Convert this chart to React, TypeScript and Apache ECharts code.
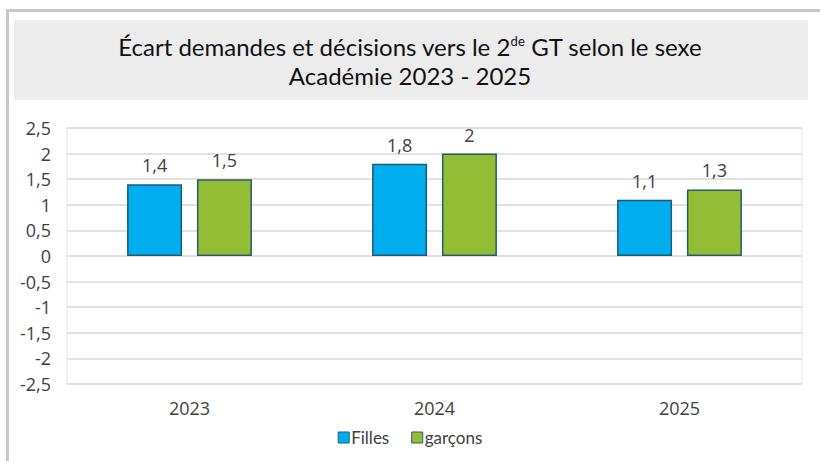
import React, { useEffect, useRef } from "react";
import * as echarts from "echarts";

const categories = ["2023", "2024", "2025"];
const filles = [1.4, 1.8, 1.1];
const garcons = [1.5, 2, 1.3];
const seriesNames = ["Filles", "garçons"];

const fmt = (v: number) => String(v).replace(".", ",");

export default function App() {
  const ref = useRef<HTMLDivElement>(null);
  useEffect(() => {
    const chart = echarts.init(ref.current!, null, { renderer: "svg" });
    const labelStyle = {
      show: true,
      position: "top" as const,
      distance: 10,
      color: "#404040",
      fontSize: 18,
      fontFamily: "Open Sans",
      formatter: (p: any) => fmt(p.value),
    };
    chart.setOption({
      animation: false,
      backgroundColor: "#ffffff",
      graphic: [
        { type: "rect", shape: { x: 6, y: 9, width: 820, height: 3 }, style: { fill: "#c8c8c8" } },
        { type: "rect", shape: { x: 6, y: 9, width: 3, height: 460 }, style: { fill: "#c8c8c8" } },
        { type: "rect", shape: { x: 14, y: 20, width: 794, height: 80 }, style: { fill: "#ececec" } },
        {
          type: "text",
          x: 410,
          y: 46,
          style: {
            text: "{t|Écart demandes et décisions vers le 2}{s|de}{t| GT selon le sexe}",
            align: "center",
            verticalAlign: "middle",
            rich: {
              t: { fontSize: 24, fontFamily: "Lato", fill: "#111111" },
              s: { fontSize: 13, fontFamily: "Lato", fill: "#111111", verticalAlign: "top", padding: [0, 0, 10, 0] },
            },
          },
        },
        {
          type: "text",
          x: 410,
          y: 75,
          style: {
            text: "Académie 2023 - 2025",
            align: "center",
            verticalAlign: "middle",
            fontSize: 24,
            fontFamily: "Lato",
            fill: "#111111",
          },
        },
      ],
      grid: { left: 67, right: 18, top: 128, bottom: 77, show: true, borderColor: "#e4e4e4", borderWidth: 1 },
      legend: {
        bottom: 10,
        left: "center",
        itemWidth: 11,
        itemHeight: 11,
        itemGap: 22,
        icon: "rect",
        itemStyle: { borderWidth: 1 },
        textStyle: { fontSize: 17, color: "#404040", fontFamily: "Lato", padding: [0, 0, 0, -3] },
        data: seriesNames,
      },
      xAxis: {
        type: "category",
        data: categories,
        axisLine: { show: false },
        axisTick: { show: false },
        axisLabel: { color: "#404040", fontSize: 18, fontFamily: "Open Sans", margin: 15 },
      },
      yAxis: {
        type: "value",
        min: -2.5,
        max: 2.5,
        interval: 0.5,
        axisLine: { show: false },
        axisTick: { show: false },
        splitLine: { lineStyle: { color: "#d9d9d9", width: 1.5 } },
        axisLabel: {
          color: "#404040",
          fontSize: 18,
          fontFamily: "Open Sans",
          margin: 16,
          formatter: (v: number) => fmt(v),
        },
      },
      series: [
        {
          name: seriesNames[0],
          type: "bar",
          data: filles,
          barWidth: 55,
          barGap: "27%",
          itemStyle: { color: "#00aeef", borderColor: "#1b5a7d", borderWidth: 1.5 },
          label: labelStyle,
        },
        {
          name: seriesNames[1],
          type: "bar",
          data: garcons,
          barWidth: 55,
          itemStyle: { color: "#93bd35", borderColor: "#2b5a6a", borderWidth: 1.5 },
          label: labelStyle,
        },
      ],
    });
    return () => chart.dispose();
  }, []);
  return <div ref={ref} style={{ position: "fixed", left: 0, top: 0, width: 820, height: 461 }} />;
}
